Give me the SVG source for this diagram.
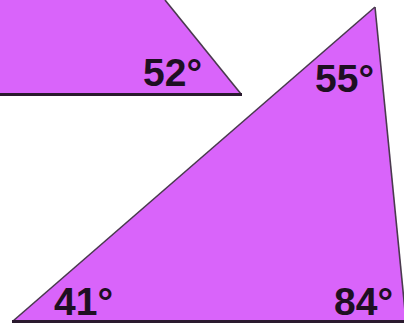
<svg xmlns="http://www.w3.org/2000/svg" width="404" height="323" viewBox="0 0 404 323">
<style>
.fill{fill:#D964FA;stroke:none}
.edge{stroke:#4a3a4e;stroke-width:1.6;fill:none}
.base{stroke:#2a1a2e;stroke-width:3;fill:none}
.lbl{font-family:"Liberation Sans",Arial,sans-serif;font-weight:bold;font-size:39px;fill:#1e0f22}
</style>
<rect width="404" height="323" fill="#ffffff"/>
<g id="top-triangle">
<polygon class="fill" points="0,0 165,0 241,94 0,94"/>
<line class="edge" x1="165" y1="0" x2="241" y2="94"/>
<line class="base" x1="0" y1="94.5" x2="242" y2="94.5"/>
<text class="lbl" x="143" y="86">52°</text>
</g>
<g id="big-triangle">
<polygon class="fill" points="13,321 375,7 406,321"/>
<line class="edge" x1="13" y1="321" x2="375" y2="7"/>
<line class="edge" x1="375" y1="7" x2="406" y2="321"/>
<line class="base" x1="12" y1="321.5" x2="404" y2="321.5"/>
<text class="lbl" x="315" y="92">55°</text>
<text class="lbl" x="54" y="315">41°</text>
<text class="lbl" x="334" y="315">84°</text>
</g>
</svg>
